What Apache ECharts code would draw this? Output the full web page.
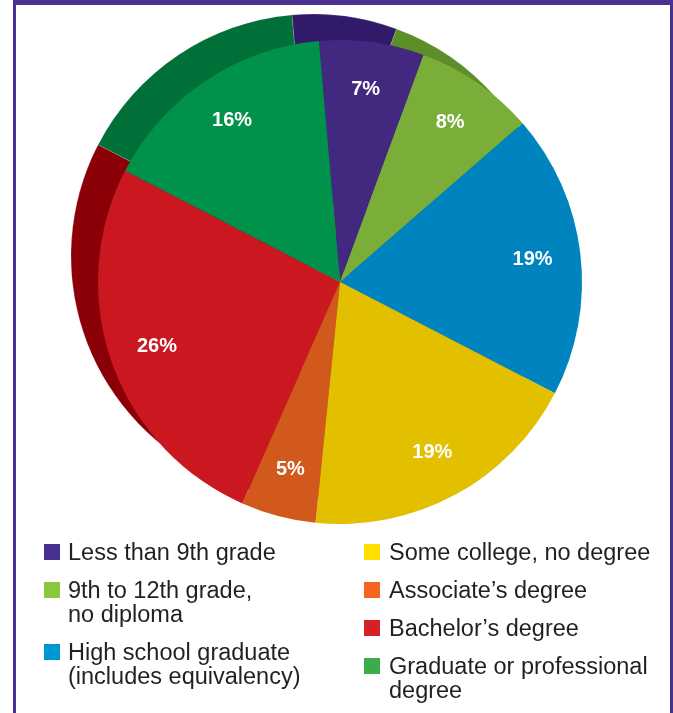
<!DOCTYPE html>
<html>
<head>
<meta charset="utf-8">
<script src="https://cdn.jsdelivr.net/npm/echarts@6/dist/echarts.min.js"></script>
<style>
html,body{margin:0;padding:0;background:#ffffff;}
#chart{width:673px;height:713px;}
</style>
</head>
<body>
<div id="chart"></div>
<script>
// ---- data ----
const categories = [
  'Less than 9th grade',
  '9th to 12th grade,\nno diploma',
  'High school graduate\n(includes equivalency)',
  'Some college, no degree',
  'Associate\u2019s degree',
  'Bachelor\u2019s degree',
  'Graduate or professional\ndegree'
];
const shares = [7, 8, 19, 19, 5, 26, 16];
const faceColors = ['#42287e', '#7aae39', '#0084bf', '#e2c000', '#d2591c', '#cb1720', '#00914a'];
const sideColors = ['#311a69', '#5e8e27', '#005f8c', '#a88f00', '#9c4214', '#8b0006', '#006f38'];
const legendColors = ['#47308f', '#8cc63f', '#0096d6', '#ffde00', '#f26522', '#d42027', '#3cab4a'];
const legendColumns = [[0, 1, 2], [3, 4, 5, 6]];

// ---- chart ----
const chart = echarts.init(document.getElementById('chart'), null, {renderer: 'canvas'});

const cx = 340, cy = 282, R = 242;
const sideDx = -27, sideDy = -26;
const startAngle = 95;

function items(colors) {
  return categories.map((c, i) => ({
    name: c.replace('\n', ' '),
    value: shares[i],
    itemStyle: {color: colors[i]}
  }));
}

// legend as graphic elements (first line aligned with swatch)
const graphics = [];
const colX = [[44, 68], [364, 389]];
const lineH = 24;
legendColumns.forEach((col, ci) => {
  let y = 552;
  col.forEach(idx => {
    const lines = categories[idx].split('\n').length;
    graphics.push({
      type: 'rect', silent: true,
      shape: {x: colX[ci][0], y: y - 8, width: 16, height: 16},
      style: {fill: legendColors[idx]}
    });
    graphics.push({
      type: 'text', silent: true,
      x: colX[ci][1], y: y - lineH / 2 + 2,
      style: {
        text: categories[idx],
        font: '23.5px "Liberation Sans", Arial, sans-serif',
        fill: '#231f20',
        lineHeight: lineH,
        verticalAlign: 'top',
        align: 'left'
      }
    });
    y += lines * lineH + 14;
  });
});
// frame
const frameColor = '#4b3192';
graphics.push({type: 'rect', silent: true, shape: {x: 13, y: 0, width: 660, height: 5}, style: {fill: frameColor}});
graphics.push({type: 'rect', silent: true, shape: {x: 13, y: 0, width: 3, height: 713}, style: {fill: frameColor}});
graphics.push({type: 'rect', silent: true, shape: {x: 670, y: 0, width: 3, height: 713}, style: {fill: frameColor}});

chart.setOption({
  animation: false,
  backgroundColor: '#ffffff',
  series: [
    {
      type: 'pie', silent: true, z: 1,
      center: [cx + sideDx, cy + sideDy], radius: R,
      startAngle: startAngle,
      label: {show: false}, labelLine: {show: false},
      itemStyle: {borderColor: 'rgba(255,255,255,0.25)', borderWidth: 0.6},
      data: items(sideColors)
    },
    {
      type: 'pie', silent: true, z: 2,
      center: [cx, cy], radius: R,
      startAngle: startAngle,
      label: {show: false}, labelLine: {show: false},
      itemStyle: {borderWidth: 0},
      data: items(faceColors)
    },
    {
      type: 'pie', silent: true, z: 3,
      center: [cx, cy], radius: [140, R],
      startAngle: startAngle,
      avoidLabelOverlap: false,
      itemStyle: {color: 'rgba(0,0,0,0)', borderWidth: 0},
      label: {
        show: true, position: 'inside',
        formatter: p => p.value + '%',
        color: '#ffffff',
        fontFamily: '"Liberation Sans", Arial, sans-serif',
        fontWeight: 'bold', fontSize: 20
      },
      labelLine: {show: false},
      data: categories.map((c, i) => ({name: c.replace('\n', ' '), value: shares[i]}))
    }
  ],
  graphic: graphics
});
</script>
</body>
</html>
